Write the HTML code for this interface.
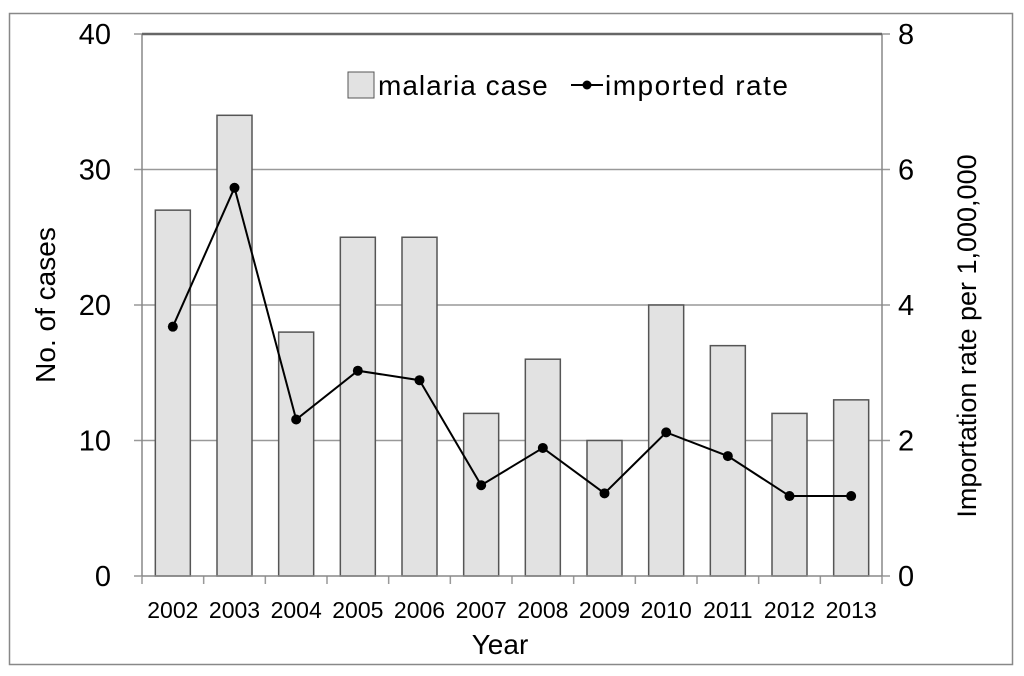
<!DOCTYPE html>
<html><head><meta charset="utf-8"><style>
body{margin:0;background:#fff;}
svg{display:block;font-family:"Liberation Sans",sans-serif;}
</style></head><body>
<svg id="chart" width="1024" height="676">
<rect x="9.5" y="13.5" width="1003" height="651" fill="#fff" stroke="#888" stroke-width="1.5"/>
<g id="grid"></g><g id="bars"></g><g id="axes"></g><g id="line"></g>
<g>
<rect x="348" y="72" width="26" height="26" fill="#e2e2e2" stroke="#555"/>
<text x="378" y="95" font-size="28" letter-spacing="1" fill="#000">malaria case</text>
<line x1="571" y1="85" x2="603" y2="85" stroke="#000" stroke-width="2"/>
<circle cx="587" cy="85" r="4.5" fill="#000"/>
<text x="605" y="95" font-size="28" letter-spacing="1.5" fill="#000">imported rate</text>
</g>
<text x="55" y="305" font-size="28" text-anchor="middle" transform="rotate(-90 55 305)">No. of cases</text>
<text x="976" y="336" font-size="27" text-anchor="middle" transform="rotate(-90 976 336)">Importation rate per 1,000,000</text>
<text x="500" y="654" font-size="28" text-anchor="middle">Year</text>
</svg>
<script>
const years=["2002","2003","2004","2005","2006","2007","2008","2009","2010","2011","2012","2013"];
const cases=[27,34,18,25,25,12,16,10,20,17,12,13];
const rates=[3.68,5.73,2.31,3.03,2.89,1.34,1.89,1.22,2.12,1.77,1.18,1.18];
const yTicks=[0,10,20,30,40];
const y2Ticks=[0,2,4,6,8];
const NS="http://www.w3.org/2000/svg";
const L=142,R=882,T=34,B=576;
const bw=(R-L)/years.length;
const xC=i=>L+bw*(i+0.5);
const y=v=>B-(v/40)*(B-T);
const y2=v=>B-(v/8)*(B-T);
function mk(tag,a,parent){const e=document.createElementNS(NS,tag);for(const k in a)e.setAttribute(k,a[k]);document.getElementById(parent).appendChild(e);return e;}
yTicks.forEach(t=>{
 if(t>0&&t<40){const g=mk('line',{x1:L,x2:R,y1:y(t),y2:y(t),stroke:'#999','stroke-width':1.5},'grid');
 
 }
 const tk=mk('line',{x1:L-8,x2:L,y1:y(t),y2:y(t),stroke:'#999','stroke-width':1.5},'axes');
 
 
 const tx=mk('text',{x:L-31,y:y(t)+10,'font-size':29,'text-anchor':'end'},'axes');tx.textContent=t;
 
 
});
y2Ticks.forEach(t=>{
 const tk=mk('line',{x1:R,x2:R+8,y1:y2(t),y2:y2(t),stroke:'#999','stroke-width':1.5},'axes');
 
 
 const tx=mk('text',{x:R+16,y:y2(t)+10,'font-size':29},'axes');tx.textContent=t;
 
 
});
years.forEach((yr,i)=>{
 const b=mk('rect',{x:xC(i)-17.5,y:y(cases[i]),width:35,height:B-y(cases[i]),fill:'#e2e2e2',stroke:'#555','stroke-width':1.5},'bars');
 
 
 const tx=mk('text',{x:xC(i),y:618,'font-size':23,'text-anchor':'middle'},'axes');tx.textContent=yr;
 
 
});
for(let i=0;i<=years.length;i++){
 const tk=mk('line',{x1:L+bw*i,x2:L+bw*i,y1:B,y2:B+8,stroke:'#999','stroke-width':1.5},'axes');
 
 
}
const ax=[[L,T,L,B],[R,T,R,B],[L,B,R,B],[L,T,R,T]];
ax.forEach((a,i)=>{const l=mk('line',{x1:a[0],y1:a[1],x2:a[2],y2:a[3],stroke:i==3?'#666':'#888','stroke-width':i==3?2.5:1.5},'axes');
 
 });
const pl=mk('polyline',{points:rates.map((r,i)=>xC(i)+','+y2(r)).join(' '),fill:'none',stroke:'#000','stroke-width':2},'line');


rates.forEach((r,i)=>{const c=mk('circle',{cx:xC(i),cy:y2(r),r:5,fill:'#000'},'line');
 
 });
</script>
</body></html>
